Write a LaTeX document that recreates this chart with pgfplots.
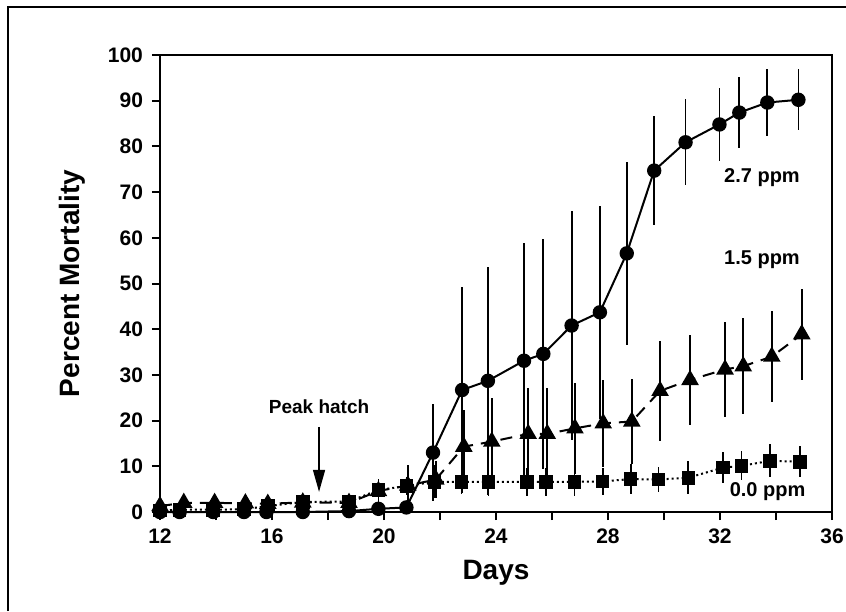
\documentclass[border=0pt]{standalone}
\usepackage{fontspec}
\setmainfont{Liberation Sans}
\usepackage{pgfplots}
\pgfplotsset{compat=1.18}
\usetikzlibrary{arrows.meta}
\begin{document}
\begin{tikzpicture}
\path[use as bounding box] (0,0) rectangle (423pt,305.5pt);
\draw[line width=1.2pt] (4pt,0) -- (4pt,302pt) -- (423pt,302pt);
\begin{axis}[
  at={(80pt,49.5pt)}, anchor=south west,
  scale only axis, width=336pt, height=228.5pt,
  xmin=12, xmax=36, ymin=0, ymax=100,
  xtick={12,14,...,36}, xticklabels={12,,16,,20,,24,,28,,32,,36},
  ytick={0,10,...,100},
  tick align=outside, major tick length=4pt,
  tick style={line width=1pt, black},
  xtick pos=bottom, ytick pos=left,
  axis line style={line width=1.3pt},
  /pgf/number format/assume math mode=true,
  ticklabel style={font=\bfseries\fontsize{10.5}{12}\selectfont},
  yticklabel style={xshift=-1pt},
  xticklabel style={yshift=-1pt},
  xlabel={Days}, ylabel={Percent Mortality},
  label style={font=\bfseries\fontsize{14}{16}\selectfont},
  xlabel style={at={(axis description cs:0.5,-0.1335)}, anchor=center},
  ylabel style={at={(axis description cs:-0.131,0.5)}, anchor=center},
  clip=false,
]
% 0.0 ppm
\addplot[black, line width=1pt, dash pattern=on 1pt off 1.5pt, mark=square*, mark size=2.9pt, mark options={solid},
  error bars/.cd, y dir=both, y explicit, error mark=none, error bar style={line width=0.9pt, solid}]
  table[x=x, y=y, y error=e] {
x y e
12.0 0.3 0
12.7 0.5 0
13.9 0.5 0
15.0 0.6 0
15.85 1.3 0
17.1 2.2 0.5
18.75 2.3 0.5
19.8 4.8 2.5
20.8 5.7 2
21.8 6.6 3.6
22.77 6.6 2.6
23.73 6.6 3.0
25.1 6.6 3.0
25.79 6.6 3.0
26.80 6.6 3.0
27.81 6.7 3.0
28.81 7.2 3.2
29.80 7.1 2.8
30.87 7.5 3.6
32.1 9.7 3.4
32.77 10.1 3.2
33.79 11.2 3.6
34.86 11.0 3.4
};
% 1.5 ppm
\addplot[black, line width=1pt, dash pattern=on 6pt off 4pt, mark=triangle*, mark size=4.1pt, mark options={solid},
  error bars/.cd, y dir=both, y explicit, error mark=none, error bar style={line width=0.9pt, solid}]
  table[x=x, y=y, y error=e] {
x y e
12.0 1.3 0
12.85 2.0 0
13.95 2.0 0
15.05 1.9 0
15.85 1.8 0
17.1 2.1 0
18.75 2.0 0
19.8 4.6 2.7
20.85 5.8 4.5
21.85 7.1 4
22.85 14.3 8
23.85 15.4 9.5
25.15 17.1 10
25.83 17.1 10
26.82 18.3 10
27.83 19.4 9.5
28.85 19.8 9.4
29.86 26.5 11
30.93 28.9 9.8
32.18 31.2 10.4
32.83 31.9 10.5
33.85 34.0 9.9
34.92 38.9 10
};
% 2.7 ppm
\addplot[black, line width=1pt, solid, mark=*, mark size=3.1pt,
  error bars/.cd, y dir=both, y explicit, error mark=none, error bar style={line width=0.9pt, solid}]
  table[x=x, y=y, y error=e] {
x y e
12.0 0 0
12.7 0 0
13.9 0 0
15.0 0 0
15.8 0 0
17.1 0 0
18.75 0.2 0
19.8 0.7 0
20.8 1.0 0
21.75 13.0 10.7
22.79 26.7 22.6
23.71 28.7 25
25.0 33.1 25.8
25.69 34.6 25.2
26.70 40.8 25.1
27.71 43.7 23.3
28.67 56.6 20
29.65 74.7 12
30.77 80.9 9.4
31.98 84.8 8
32.69 87.4 7.7
33.69 89.6 7.4
34.80 90.2 6.7
};
\draw[line width=0.7pt, -{Triangle[length=11pt,width=6pt]}] (axis cs:17.68,18.6) -- (axis cs:17.68,4.4);
\node[font=\bfseries\fontsize{9.5}{11}\selectfont] at (axis cs:17.68,23.0) {Peak hatch};
\node[font=\bfseries\fontsize{10}{12}\selectfont] at (axis cs:33.5,73.1) {2.7 ppm};
\node[font=\bfseries\fontsize{10}{12}\selectfont] at (axis cs:33.5,55.1) {1.5 ppm};
\node[font=\bfseries\fontsize{10}{12}\selectfont] at (axis cs:33.7,4.4) {0.0 ppm};
\end{axis}
\end{tikzpicture}
\end{document}
